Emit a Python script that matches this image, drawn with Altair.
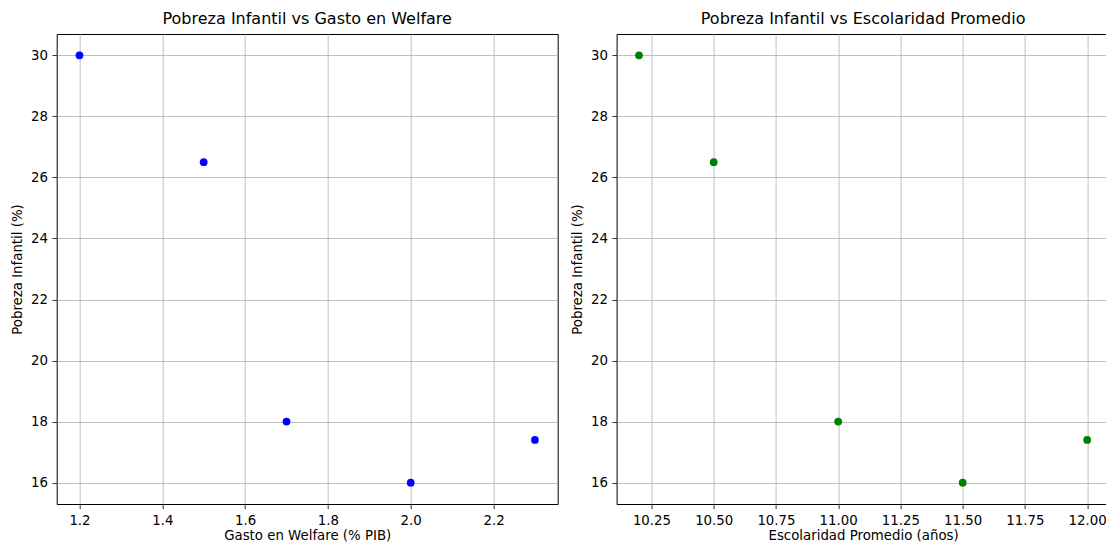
import altair as alt
import pandas as pd

gasto = [1.2, 1.5, 1.7, 2.0, 2.3]
escolaridad = [10.2, 10.5, 11.0, 11.5, 12.0]
pobreza = [30.0, 26.5, 18.0, 16.0, 17.4]

x1_ticks = [1.2, 1.4, 1.6, 1.8, 2.0, 2.2]
x2_ticks = [10.25, 10.5, 10.75, 11.0, 11.25, 11.5, 11.75, 12.0]
y_ticks = [16, 18, 20, 22, 24, 26, 28, 30]

df = pd.DataFrame({"gasto": gasto, "escolaridad": escolaridad, "pobreza": pobreza})

FONT = "DejaVu Sans"
H = 470
W1 = 501
W2 = 493
PAD_L = 48.7
PAD_T = 26
SVG_W = 1098
SVG_H = 533

y_scale = alt.Scale(domain=[15.3, 30.7], nice=False, zero=False)
x1_scale = alt.Scale(domain=[1.145, 2.355], nice=False, zero=False)
x2_scale = alt.Scale(domain=[10.11, 12.09], nice=False, zero=False)

yaxis = alt.Axis(values=y_ticks, title="Pobreza Infantil (%)", format="d", titlePadding=6)

left = alt.Chart(df, title="Pobreza Infantil vs Gasto en Welfare").mark_point(
    filled=True, size=60, color="#0000ff", opacity=1
).encode(
    x=alt.X("gasto:Q", scale=x1_scale,
            axis=alt.Axis(values=x1_ticks, title="Gasto en Welfare (% PIB)", format=".1f",
                          titlePadding=2)),
    y=alt.Y("pobreza:Q", scale=y_scale, axis=yaxis),
).properties(width=W1, height=H)

right = alt.Chart(df, title="Pobreza Infantil vs Escolaridad Promedio").mark_point(
    filled=True, size=60, color="#008000", opacity=1
).encode(
    x=alt.X("escolaridad:Q", scale=x2_scale,
            axis=alt.Axis(values=x2_ticks, title="Escolaridad Promedio (años)", format=".2f",
                          titlePadding=2)),
    y=alt.Y("pobreza:Q", scale=y_scale, axis=yaxis),
).properties(width=W2, height=H)

chart = alt.hconcat(left, right, spacing=10.9).properties(
    autosize=alt.AutoSizeParams(type="none"),
    padding={"left": PAD_L, "top": PAD_T, "right": SVG_W - PAD_L, "bottom": SVG_H - PAD_T},
).configure(font=FONT).configure_view(
    stroke="#000000", strokeWidth=1
).configure_axis(
    grid=True, gridColor="#b0b0b0", gridWidth=0.8, zindex=1,
    domain=False, tickColor="#000000", tickSize=4.67, tickWidth=0.8,
    labelFont=FONT, labelFontSize=13.33, labelColor="#000000", labelPadding=4.5,
    titleFont=FONT, titleFontSize=13.33, titleFontWeight="normal", titleColor="#000000",
).configure_title(
    font=FONT, fontSize=16, fontWeight="normal", color="#000000", offset=7, anchor="middle"
)

chart.save("out.html", embed_options={"renderer": "svg", "actions": False})
